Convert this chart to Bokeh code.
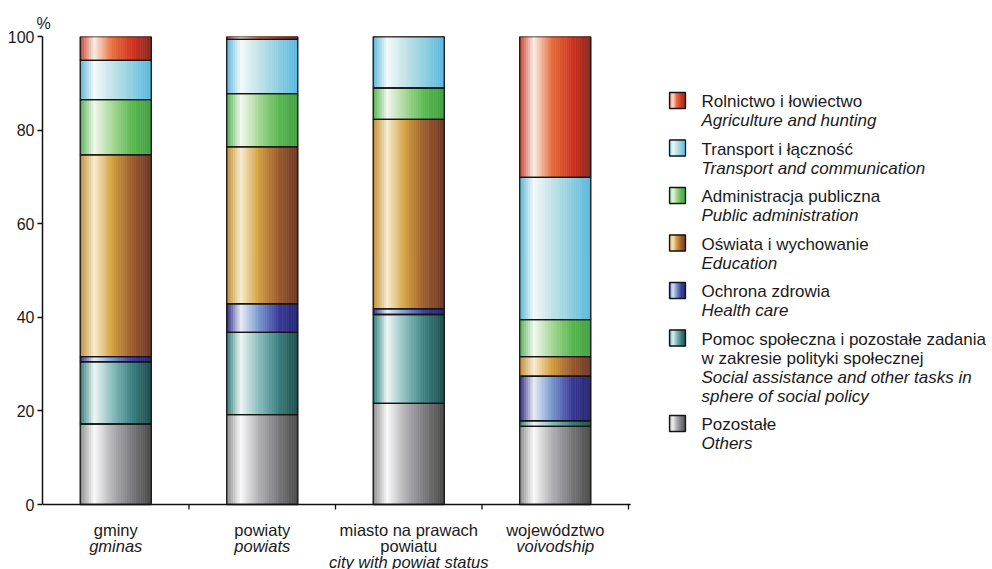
from bokeh.plotting import figure
from bokeh.models import Range1d, FixedTicker
from bokeh.embed import file_html
from bokeh.resources import INLINE
from bokeh.core.properties import value

# ---------------- data ----------------
categories = ["gminy", "powiaty", "miasto na prawach powiatu", "województwo"]
cat_label_pl = [["gminy"], ["powiaty"], ["miasto na prawach", "powiatu"], ["województwo"]]
cat_label_en = ["gminas", "powiats", "city with powiat status", "voivodship"]
y_ticks = [0, 20, 40, 60, 80, 100]

# series, stacked bottom -> top (percent)
pozostale = [17.2, 19.2, 21.6, 16.7]
pomoc = [13.3, 17.6, 19.0, 1.2]
zdrowie = [1.1, 6.1, 1.2, 9.5]
oswiata = [43.1, 33.5, 40.5, 4.2]
administracja = [11.8, 11.4, 6.7, 7.9]
transport = [8.4, 11.6, 11.0, 30.4]
rolnictwo = [5.1, 0.6, 0.0, 30.1]

series_values = [pozostale, pomoc, zdrowie, oswiata, administracja, transport, rolnictwo]
series_pl = [["Pozostałe"],
             ["Pomoc społeczna i pozostałe zadania", "w zakresie polityki społecznej"],
             ["Ochrona zdrowia"],
             ["Oświata i wychowanie"],
             ["Administracja publiczna"],
             ["Transport i łączność"],
             ["Rolnictwo i łowiectwo"]]
series_en = [["Others"],
             ["Social assistance and other tasks in", "sphere of social policy"],
             ["Health care"],
             [" Education"],
             ["Public administration"],
             ["Transport and communication"],
             ["Agriculture and hunting"]]

# ---------------- style ----------------
POS = [0.0, 0.2, 0.45, 0.74, 1.0]
series_stops = [
    ["#8a8a8a", "#fafafa", "#b2b2b6", "#78787c", "#4a4a48"],   # others
    ["#2a7878", "#eef6f4", "#8abebe", "#3a7e80", "#1e4e4a"],   # social
    ["#2a2a80", "#e8ecf4", "#7a9ad0", "#3a3a98", "#262670"],   # health
    ["#c08a30", "#f8ecd0", "#d4a040", "#9a5a2e", "#6e3828"],   # education
    ["#50b050", "#f2f8ee", "#a8d898", "#58b850", "#44a044"],   # admin
    ["#5ab4d4", "#f4fafa", "#c4e4e8", "#8ccee0", "#5ab8e0"],   # transport
    ["#c8402a", "#fbeee6", "#e8703e", "#d0341f", "#8c2822"],   # agriculture
]
FONT = "Liberation Sans"
TXT = "#1a1a1a"
AX = "#111111"


def _rgb(h):
    h = h.lstrip("#")
    return [int(h[i:i + 2], 16) for i in (0, 2, 4)]


def grad(stops, t):
    for j in range(len(POS) - 1):
        if t <= POS[j + 1]:
            f = (t - POS[j]) / (POS[j + 1] - POS[j])
            a, b = _rgb(stops[j]), _rgb(stops[j + 1])
            return "#%02x%02x%02x" % tuple(int(round(a[k] + (b[k] - a[k]) * f)) for k in range(3))
    return stops[-1]


# ---------------- geometry (pixels) ----------------
W, H = 992, 569
FRAME_L, FRAME_T = 42, 36          # frame left/top on the page
CAT_PX = 146.5                     # pixel width of one category slot
Y_PX = 4.68                        # pixels per percent
AXIS_Y = FRAME_T + 100 * Y_PX      # page y of the value 0


def dx(px):  # page x -> data x
    return (px - FRAME_L) / CAT_PX


def dy(py):  # page y -> data y
    return (AXIS_Y - py) / Y_PX


x_hi = dx(W)
y_lo = dy(H)

p = figure(width=W, height=H, output_backend="svg", toolbar_location=None,
           x_range=Range1d(0, x_hi), y_range=Range1d(y_lo, 100),
           x_axis_location=None,
           min_border_left=FRAME_L, min_border_right=0, min_border_top=FRAME_T, min_border_bottom=0)
p.outline_line_color = None
p.grid.visible = False
p.background_fill_color = "white"
p.border_fill_color = "white"

# "%" unit as the title
p.title.text = "%"
p.title.align = "left"
p.title.offset = -6
p.title.standoff = 10
p.title.text_font = FONT
p.title.text_font_size = "16px"
p.title.text_font_style = "normal"
p.title.text_color = TXT

# ---------------- bars ----------------
BAR_W = 0.485
N = 32
sl, sr, sb, st, sc = [], [], [], [], []
ol, orr, ob, ot = [], [], [], []
bottoms = [0.0] * len(categories)
for s, vals in enumerate(series_values):
    for i, v in enumerate(vals):
        b = bottoms[i]
        t = b + v
        left = i + 0.5 - BAR_W / 2
        for k in range(N):
            sl.append(left + k * BAR_W / N)
            sr.append(left + (k + 1) * BAR_W / N)
            sb.append(b)
            st.append(t)
            sc.append(grad(series_stops[s], (k + 0.5) / N))
        ol.append(left); orr.append(left + BAR_W); ob.append(b); ot.append(t)
        bottoms[i] = t

p.quad(left=sl, right=sr, bottom=sb, top=st, fill_color=sc, line_color=sc, line_width=0.6)
p.quad(left=ol, right=orr, bottom=ob, top=ot, fill_color=None, line_color="#151515", line_width=1.3)

# ---------------- y axis ----------------
p.yaxis.bounds = (0, 100)
p.yaxis.ticker = FixedTicker(ticks=y_ticks)
p.yaxis.minor_tick_line_color = None
p.yaxis.major_tick_out = 5
p.yaxis.major_tick_in = 0
p.yaxis.major_label_standoff = 3
p.yaxis.major_label_text_font = FONT
p.yaxis.major_label_text_font_size = "16px"
p.yaxis.major_label_text_color = TXT
p.yaxis.axis_line_color = AX
p.yaxis.axis_line_width = 1.5
p.yaxis.major_tick_line_color = AX
p.yaxis.major_tick_line_width = 1.3

# ---------------- x axis (baseline, boundary ticks, two-style labels) ----------------
n_cat = len(categories)
p.segment(x0=[0], y0=[0], x1=[n_cat + 0.015], y1=[0], line_color=AX, line_width=1.5)
bounds_x = list(range(1, n_cat + 1))
p.segment(x0=bounds_x, y0=[0] * n_cat, x1=bounds_x, y1=[-5 / Y_PX] * n_cat,
          line_color=AX, line_width=1.3)

LBL_OFF = [25, 41.5, 57]
lx_n, ly_n, lt_n, lx_i, ly_i, lt_i = [], [], [], [], [], []
for i in range(n_cat):
    j = 0
    for t in cat_label_pl[i]:
        lx_n.append(i + 0.5); ly_n.append(-LBL_OFF[j] / Y_PX); lt_n.append(t); j += 1
    lx_i.append(i + 0.5); ly_i.append(-LBL_OFF[j] / Y_PX); lt_i.append(cat_label_en[i])
p.text(x=lx_n, y=ly_n, text=lt_n, text_font=value(FONT), text_font_size="16.5px",
       text_align="center", text_baseline="alphabetic", text_color=TXT)
p.text(x=lx_i, y=ly_i, text=lt_i, text_font=value(FONT), text_font_size="16.5px",
       text_font_style="italic", text_align="center", text_baseline="alphabetic", text_color=TXT)

# ---------------- legend ----------------
LINE = 19
GAP = 28.5
SW_L, SW_R, SW_HALF = 669, 685, 8
TX = 701
y = 101
gl, gr, gb, gt, gc = [], [], [], [], []
bl, br, bb, bt = [], [], [], []
tx_n, ty_n, tt_n = [], [], []
tx_i, ty_i, tt_i = [], [], []
NS = 10
for s in reversed(range(len(series_values))):
    cy = y - 1
    for k in range(NS):
        gl.append(dx(SW_L + k * (SW_R - SW_L) / NS)); gr.append(dx(SW_L + (k + 1) * (SW_R - SW_L) / NS))
        gb.append(dy(cy + SW_HALF)); gt.append(dy(cy - SW_HALF))
        gc.append(grad(series_stops[s], (k + 0.5) / NS))
    bl.append(dx(SW_L)); br.append(dx(SW_R)); bb.append(dy(cy + SW_HALF)); bt.append(dy(cy - SW_HALF))
    yy = y
    for t in series_pl[s]:
        tx_n.append(dx(TX)); ty_n.append(dy(yy)); tt_n.append(t); yy += LINE
    for t in series_en[s]:
        tx_i.append(dx(TX)); ty_i.append(dy(yy)); tt_i.append(t); yy += LINE
    y = yy - LINE + GAP

p.quad(left=gl, right=gr, bottom=gb, top=gt, fill_color=gc, line_color=gc, line_width=0.6)
p.quad(left=bl, right=br, bottom=bb, top=bt, fill_color=None, line_color="#151515", line_width=1.3)
p.text(x=tx_n, y=ty_n, text=tt_n, text_font=value(FONT), text_font_size="17px",
       text_baseline="middle", text_align="left", text_color=TXT)
p.text(x=tx_i, y=ty_i, text=tt_i, text_font=value(FONT), text_font_size="17px",
       text_font_style="italic", text_baseline="middle", text_align="left", text_color=TXT)

open("out.html", "w").write(file_html(p, INLINE))
